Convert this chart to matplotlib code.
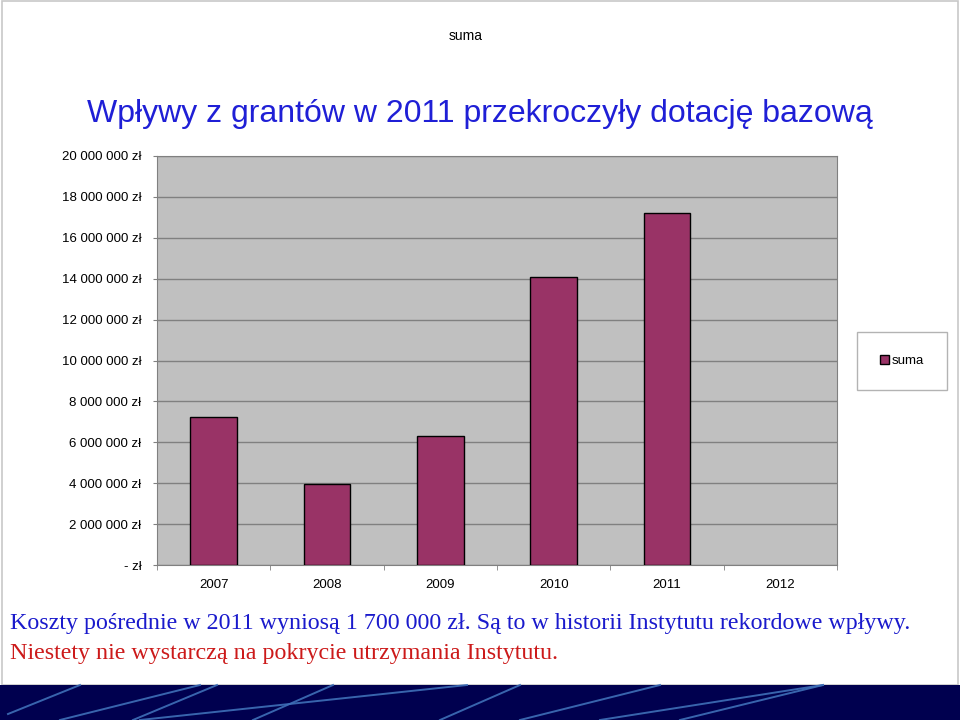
import matplotlib
matplotlib.use("Agg")
import matplotlib.pyplot as plt
from matplotlib.patches import Rectangle
from matplotlib.lines import Line2D

plt.rcParams['font.family'] = ['Liberation Sans', 'DejaVu Sans']

years = ['2007', '2008', '2009', '2010', '2011', '2012']
suma = [7240000, 3960000, 6310000, 14080000, 17210000, 0]
yticks = list(range(0, 20000001, 2000000))


def zl(v):
    if v == 0:
        return '- zł'
    return '{:,}'.format(int(v)).replace(',', ' ') + ' zł'


W, H = 960, 720
fig = plt.figure(figsize=(9.6, 7.2), dpi=100)
fig.patch.set_facecolor('white')

# slide frame
fig.add_artist(Rectangle((2 / W, 35 / H), 956 / W, 684 / H, transform=fig.transFigure,
                         fill=False, edgecolor='#c8c8c8', lw=1.2))

ax = fig.add_axes([157 / W, 155 / H, 680 / W, 409 / H])
ax.set_facecolor('#c0c0c0')
x = range(len(years))
ax.bar(x, suma, width=0.41, color='#993366', edgecolor='black',
       lw=[1.0 if v > 0 else 0 for v in suma], zorder=3, label='suma')
ax.set_xlim(-0.5, len(years) - 0.5)
ax.set_ylim(0, 20000000)
ax.set_yticks(yticks)
ax.set_yticklabels([zl(v) for v in yticks], fontsize=9.5)
ax.set_xticks(list(x))
ax.set_xticklabels(years, fontsize=9.5)
ax.set_xticks([i + 0.5 for i in range(-1, len(years))], minor=True)
ax.tick_params(axis='x', which='major', length=0, pad=10)
ax.tick_params(axis='x', which='minor', length=3.6, color='#808080')
ax.tick_params(axis='y', length=3.2, color='#808080', pad=8)
ax.grid(axis='y', color='#808080', lw=1.0, zorder=1)
for s in ax.spines.values():
    s.set_color('#808080')

fig.text(466 / W, 1 - 36 / H, 'suma', ha='center', va='center', fontsize=10)
fig.text(480 / W, 1 - 114 / H, 'Wpływy z grantów w 2011 przekroczyły dotację bazową',
         ha='center', va='center', fontsize=23, color='#1f1fd6')

leg = fig.legend(loc='center', bbox_to_anchor=(902 / W, 1 - 361 / H), fontsize=9.5,
                 frameon=True, fancybox=False, edgecolor='#a0a0a0',
                 handlelength=0.7, handleheight=0.7, handletextpad=0.2,
                 borderpad=1.75, borderaxespad=0)
leg.get_frame().set_linewidth(1.0)

fig.text(10 / W, 1 - 624 / H,
         'Koszty pośrednie w 2011 wyniosą 1 700 000 zł. Są to w historii Instytutu rekordowe wpływy.',
         ha='left', va='center', fontsize=17.3, color='#1a1acc', family='Liberation Serif')
fig.text(10 / W, 1 - 654 / H, 'Niestety nie wystarczą na pokrycie utrzymania Instytutu.',
         ha='left', va='center', fontsize=17.3, color='#cc1a1a', family='Liberation Serif')

# bottom navy band with light streaks
fig.add_artist(Rectangle((0, 0), 1, 35 / H, transform=fig.transFigure,
                         facecolor='#00004f', edgecolor='none'))
streaks = [((80, 685), (8, 714)), ((200, 685), (60, 720)), ((217, 685), (133, 720)),
           ((467, 685), (140, 720)), ((333, 685), (253, 720)), ((520, 685), (440, 720)),
           ((660, 685), (520, 720)), ((823, 685), (600, 720)), ((823, 685), (680, 720))]
for (x0, y0), (x1, y1) in streaks:
    fig.add_artist(Line2D([x0 / W, x1 / W], [1 - y0 / H, 1 - y1 / H], transform=fig.transFigure,
                          color='#3f70b8', lw=1.4, alpha=0.9))

fig.savefig('out.png', dpi=100)
